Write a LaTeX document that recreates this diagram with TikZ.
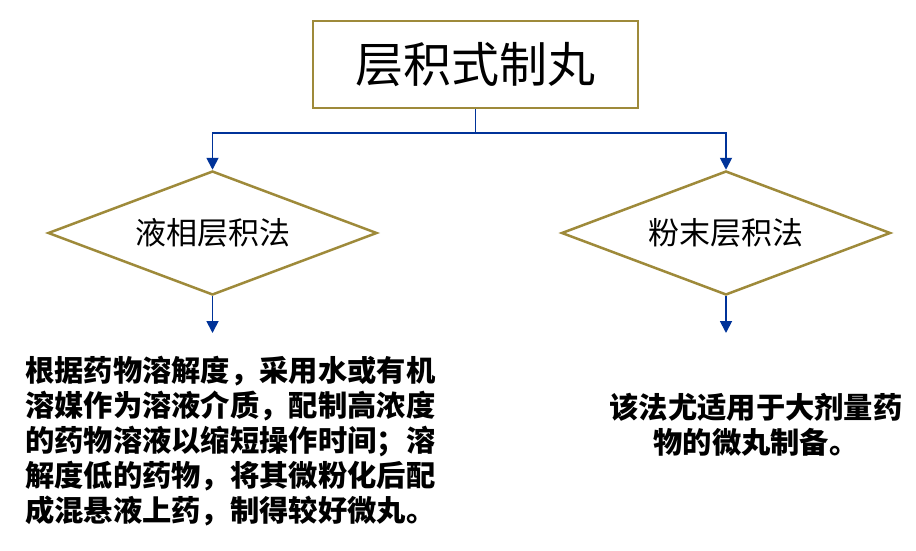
\documentclass[tikz,border=0pt]{standalone}
\usepackage{fontspec}
\newfontfamily\cjk{Noto Sans CJK SC}
\usetikzlibrary{shapes.geometric,arrows.meta}
\definecolor{olivebd}{RGB}{158,138,58}
\definecolor{linkblue}{RGB}{0,51,153}
\tikzset{
  titlebox/.style={draw=olivebd,line width=2.5pt,minimum width=325pt,minimum height=87pt,inner sep=0pt,font=\cjk\fontsize{48}{52}\selectfont},
  choice/.style={diamond,draw=olivebd,line width=2.5pt,minimum width=329pt,minimum height=124pt,inner sep=0pt,aspect=2.65,font=\cjk\fontsize{31}{35}\selectfont},
  link/.style={draw=linkblue,line width=1.8pt},
  linkarrow/.style={link,-{Triangle[length=12pt,width=12pt]}},
  bodytext/.style={inner sep=0pt,font=\cjk\bfseries\fontsize{29.3}{35}\selectfont}
}
\begin{document}
\begin{tikzpicture}[x=1pt,y=1pt]
\useasboundingbox (0,0) rectangle (916,-551);
\node[titlebox] (title) at (475.5,-64.5) {层积式制丸};
\coordinate (junction) at (475.5,-133);
\node[choice] (liquid) at (212.5,-233) {液相层积法};
\node[choice] (powder) at (726,-233) {粉末层积法};
\coordinate (liquidend) at (212.5,-333);
\coordinate (powderend) at (726,-333);
\draw[link] (title.south) -- (junction);
\draw[linkarrow] (junction) -| (liquid.north);
\draw[linkarrow] (junction) -| (powder.north);
\draw[linkarrow] (liquid.south) -- (liquidend);
\draw[linkarrow] (powder.south) -- (powderend);
\node[bodytext,align=left,anchor=north west] (liquidtext) at (25,-356) {根据药物溶解度，采用水或有机\\溶媒作为溶液介质，配制高浓度\\的药物溶液以缩短操作时间；溶\\解度低的药物，将其微粉化后配\\成混悬液上药，制得较好微丸。};
\node[bodytext,align=center,anchor=north] (powdertext) at (756,-393) {该法尤适用于大剂量药\\物的微丸制备。};
\end{tikzpicture}
\end{document}
